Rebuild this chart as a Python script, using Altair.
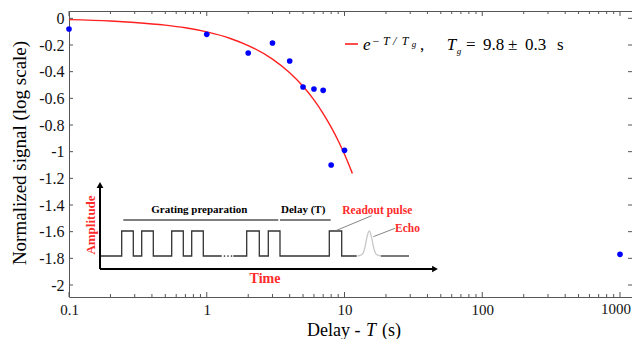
import altair as alt
import pandas as pd

# ---------------- data ----------------
delay_s = [0.1, 1, 2, 3, 4, 5, 6, 7, 8, 10, 1000]
signal = [-0.08, -0.12, -0.26, -0.185, -0.32, -0.515, -0.53, -0.54, -1.10, -0.99, -1.77]

fit_T = [0.1, 0.2, 0.3, 0.5, 0.7, 1, 1.5, 2, 3, 4, 5, 6, 7, 8, 9, 10, 11.4]
fit_y = [-0.010, -0.020, -0.031, -0.051, -0.071, -0.102, -0.153, -0.204, -0.306,
         -0.408, -0.510, -0.612, -0.714, -0.816, -0.918, -1.020, -1.163]

x_major = [0.1, 1, 10, 100, 1000]
x_minor = [0.2, 0.3, 0.4, 0.5, 0.6, 0.7, 0.8, 0.9,
           2, 3, 4, 5, 6, 7, 8, 9,
           20, 30, 40, 50, 60, 70, 80, 90,
           200, 300, 400, 500, 600, 700, 800, 900]
y_ticks = [0, -0.2, -0.4, -0.6, -0.8, -1, -1.2, -1.4, -1.6, -1.8, -2]

# inset schematic (pulse sequence), in schematic units
wave_x = [31.7, 52.7, 52.7, 64.3, 64.3, 72.7, 72.7, 84.3, 84.3, 102.7, 102.7, 114.3, 114.3,
          122.7, 122.7, 134.3, 134.3, 152.7,
          164.3, 177.7, 177.7, 190.3, 190.3, 199.3, 199.3, 211, 211, 260.3, 260.3, 272.7, 272.7, 287.7,
          312, 340]
wave_y = [245, 245, 220, 220, 245, 245, 220, 220, 245, 245, 220, 220, 245,
          245, 220, 220, 245, 245,
          245, 245, 220, 220, 245, 245, 220, 220, 245, 245, 220, 220, 245, 245,
          245, 245]
wave_seg = [0] * 18 + [1] * 14 + [2] * 2
dots_x = [155.5, 159, 162.5]
echo_x = [288.7, 293, 296, 298, 300.3, 302.5, 304.5, 307.5, 312]
echo_y = [245, 243.5, 236, 226, 220, 226, 236, 243.5, 245]

W, H = 563, 286
FONT = "Liberation Serif, Times New Roman, DejaVu Serif, serif"

pts = pd.DataFrame({"T": delay_s, "y": signal})
fit = pd.DataFrame({"T": fit_T, "y": fit_y})

xscale = alt.Scale(type="log", domain=[0.1, 1222], nice=False)
yscale = alt.Scale(domain=[-2.09, 0.055], nice=False, zero=False)
xaxis = alt.Axis(values=x_major, ticks=False, tickSize=0, domain=False, grid=False,
                 labelFlush=False, labelOverlap=False,
                 labelExpr="datum.value == 1000 ? '' : format(datum.value, '~g')",
                 labelFont=FONT, labelFontSize=15, labelColor="#111", labelPadding=5, title="")
yaxis = alt.Axis(values=y_ticks, ticks=False, tickSize=0, domain=False, grid=False,
                 labelFlush=False, labelOverlap=False,
                 labelExpr="datum.value == 0 ? '0' : replace(format(datum.value, '.1~f'), '\u2212', '-')",
                 labelFont=FONT, labelFontSize=16, labelColor="#111", labelPadding=5, title="")

def X(f="T"):
    return alt.X(f"{f}:Q", scale=xscale, axis=xaxis)

def Y(f="y"):
    return alt.Y(f"{f}:Q", scale=yscale, axis=yaxis)

curve = alt.Chart(fit).mark_line(color="#ff2020", strokeWidth=1.4, interpolate="monotone").encode(
    x=X(), y=Y())
points = alt.Chart(pts).mark_circle(color="#0000ff", size=32, opacity=1).encode(x=X(), y=Y())

TICK = "#555"
dmaj = pd.DataFrame({"T": x_major})
dmin = pd.DataFrame({"T": x_minor})
dy = pd.DataFrame({"y": y_ticks})
xt_bot = alt.Chart(dmaj).mark_rule(color=TICK).encode(x=X(), y=alt.value(H), y2=alt.value(H - 5))
xt_top = alt.Chart(dmaj).mark_rule(color=TICK).encode(x=X(), y=alt.value(0), y2=alt.value(5))
xm_bot = alt.Chart(dmin).mark_rule(color=TICK).encode(x=X(), y=alt.value(H), y2=alt.value(H - 3))
xm_top = alt.Chart(dmin).mark_rule(color=TICK).encode(x=X(), y=alt.value(0), y2=alt.value(3))
yt_l = alt.Chart(dy).mark_rule(color=TICK).encode(y=Y(), x=alt.value(0), x2=alt.value(4))
yt_r = alt.Chart(dy).mark_rule(color=TICK).encode(y=Y(), x=alt.value(W), x2=alt.value(W - 4))

main = alt.layer(xt_bot, xt_top, xm_bot, xm_top, yt_l, yt_r, curve, points)

# ---------------- annotation layer (own independent scales) ----------------
ax_s = alt.Scale(domain=[0, W], range=[0, W], nice=False, zero=False)
ay_s = alt.Scale(domain=[0, H], range=[0, H], nice=False, zero=False)

def AX(f="x"):
    return alt.X(f"{f}:Q", scale=ax_s, axis=None)

def AY(f="y"):
    return alt.Y(f"{f}:Q", scale=ay_s, axis=None)

wave = pd.DataFrame({"x": wave_x, "y": wave_y, "seg": wave_seg, "o": list(range(len(wave_x)))})
wave_l = alt.Chart(wave).mark_line(color="#333", strokeWidth=1.3).encode(
    x=AX(), y=AY(), detail="seg:N", order="o:Q")
dots = alt.Chart(pd.DataFrame({"x": dots_x, "y": [245] * 3})).mark_circle(color="#333", size=3, opacity=1).encode(
    x=AX(), y=AY())
echo = alt.Chart(pd.DataFrame({"x": echo_x, "y": echo_y, "o": list(range(len(echo_x)))})).mark_line(
    color="#c8c8c8", strokeWidth=1.3, interpolate="monotone").encode(x=AX(), y=AY(), order="o:Q")

segs = pd.DataFrame({
    "x": [31, 31, 54.3, 211, 266, 304.3, 276],
    "x2": [31, 366, 209.3, 261.7, 302.7, 326, 289],
    "y": [258, 258, 209, 209, 220, 225.7, 33],
    "y2": [174, 258, 209, 209, 204.7, 217.3, 33],
    "kind": ["axis", "axis", "guide", "guide", "lead", "lead", "legend"],
})
axis_rules = alt.Chart(segs[segs.kind == "axis"]).mark_rule(color="black", strokeWidth=2).encode(
    x=AX(), x2="x2:Q", y=AY(), y2="y2:Q")
guide_rules = alt.Chart(segs[segs.kind == "guide"]).mark_rule(color="black", strokeWidth=1).encode(
    x=AX(), x2="x2:Q", y=AY(), y2="y2:Q")
lead_rules = alt.Chart(segs[segs.kind == "lead"]).mark_rule(color="#666", strokeWidth=0.8).encode(
    x=AX(), x2="x2:Q", y=AY(), y2="y2:Q")
legend_rule = alt.Chart(segs[segs.kind == "legend"]).mark_rule(color="#ff2020", strokeWidth=1.6).encode(
    x=AX(), x2="x2:Q", y=AY(), y2="y2:Q")

heads = pd.DataFrame({"x": [31, 366], "y": [174, 258], "shape": ["triangle-up", "triangle-right"]})
arrow_heads = alt.Chart(heads).mark_point(filled=True, color="black", size=45, opacity=1).encode(
    x=AX(), y=AY(), shape=alt.Shape("shape:N", scale=None))

def txt(df, **kw):
    base = dict(font=FONT, baseline="alphabetic", align="left", color="black")
    base.update(kw)
    return alt.Chart(df).mark_text(**base).encode(x=AX(), y=AY(), text="t:N")

t_black = pd.DataFrame({"x": [130.3], "y": [202.3], "t": ["Grating preparation"]})
t_delay = pd.DataFrame({"x": [212], "y": [202.3], "t": ["Delay (T)"]})
t_red = pd.DataFrame({"x": [273.3, 326], "y": [203, 221.3], "t": ["Readout pulse", "Echo"]})
t_time = pd.DataFrame({"x": [196], "y": [268], "t": ["Time"]})
t_amp = pd.DataFrame({"x": [21.7], "y": [214], "t": ["Amplitude"]})

leg_main = pd.DataFrame({"x": [397, 414, 439, 456, 488, 351], "y": [39] * 6,
                         "t": ["=", "9.8", "±", "0.3", "s", ","]})
leg_ital = pd.DataFrame({"x": [294, 377.7], "y": [39, 39], "t": ["e", "T"]})
leg_sup = pd.DataFrame({"x": [302.7, 314, 324, 332.7], "y": [34] * 4, "t": ["−", "T", "/", "T"]})
leg_sub = pd.DataFrame({"x": [342.7, 387.7], "y": [36, 42.5], "t": ["g", "g"]})

# last x tick label, kept inside the page edge
last_lab = pd.DataFrame({"x": [562], "y": [H + 5], "t": ["1000"]})

xt_norm = pd.DataFrame({"x": [238, 313], "y": [324.5, 324.5], "t": ["Delay -", "(s)"]})
xt_ital = pd.DataFrame({"x": [297], "y": [324.5], "t": ["T"]})
yt = pd.DataFrame({"x": [-49], "y": [142], "t": ["Normalized signal (log scale)"]})

RED = "#ff2a2a"
anno = alt.layer(
    wave_l, dots, echo, axis_rules, guide_rules, lead_rules, legend_rule, arrow_heads,
    txt(t_black, fontSize=11, fontWeight="bold", align="center"),
    txt(t_delay, fontSize=11, fontWeight="bold"),
    txt(t_red, fontSize=11.5, fontWeight="bold", color=RED),
    txt(t_time, fontSize=14, fontWeight="bold", color=RED, align="center", baseline="middle"),
    txt(t_amp, fontSize=13, fontWeight="bold", color=RED, align="center", baseline="middle", angle=270),
    txt(leg_main, fontSize=17),
    txt(leg_ital, fontSize=17, fontStyle="italic"),
    txt(leg_sup, fontSize=12, fontStyle="italic"),
    txt(leg_sub, fontSize=9, fontStyle="italic"),
    txt(last_lab, fontSize=15, align="right", baseline="top", color="#111"),
    txt(xt_norm, fontSize=18),
    txt(xt_ital, fontSize=18, fontStyle="italic"),
    txt(yt, fontSize=19, align="center", baseline="middle", angle=270),
)

chart = alt.layer(main, anno).resolve_scale(x="independent", y="independent").properties(
    width=W, height=H,
    padding={"left": 61, "top": 3, "right": 0, "bottom": 42},
    autosize=alt.AutoSizeParams(type="none"),
    background="white",
).configure_view(stroke="#555", strokeWidth=1)

chart.save("out.html", embed_options={"renderer": "svg", "actions": False})
